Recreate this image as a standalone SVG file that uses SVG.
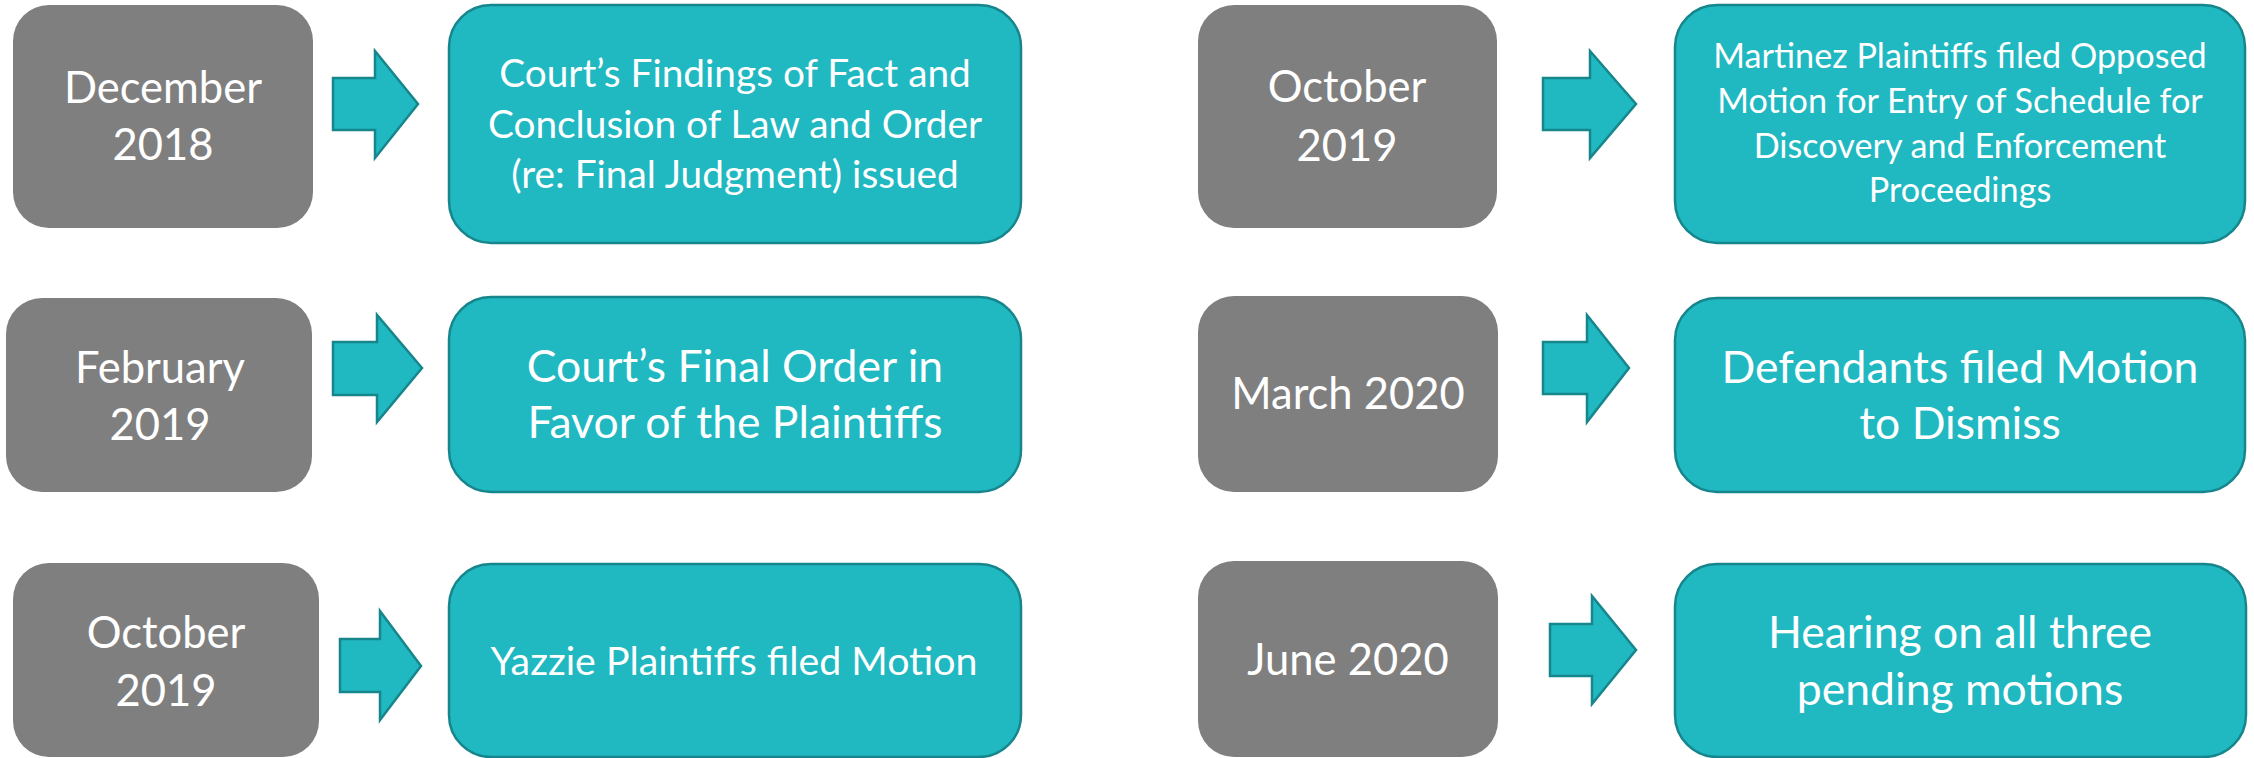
<svg xmlns="http://www.w3.org/2000/svg" width="2254" height="758" viewBox="0 0 2254 758">
<style>
.date{fill:#7f7f7f}
.evt{fill:#20b8c1;stroke:#16868c;stroke-width:2.5}
.arr{fill:#20b8c1;stroke:#16868c;stroke-width:2.5;stroke-linejoin:miter}
text{font-family:Lato,"Liberation Sans",sans-serif;fill:#ffffff;text-anchor:middle}
.d{font-size:43.5px}
.b{font-size:44.5px}
.m{font-size:38.8px}
.y{font-size:39.3px}
.s{font-size:34.2px}
</style>
<rect width="2254" height="758" fill="#ffffff"/>

<g id="date-dec-2018">
<rect class="date" x="13" y="5" width="300" height="223" rx="36"/>
<text class="d" x="163" y="103">December</text>
<text class="d" x="163" y="160">2018</text>
</g>
<g id="evt-findings">
<rect class="evt" x="449" y="5" width="572" height="238" rx="42"/>
<text class="m" x="735" y="87">Court’s Findings of Fact and</text>
<text class="m" x="735" y="138">Conclusion of Law and Order</text>
<text class="m" x="735" y="188">(re: Final Judgment) issued</text>
</g>

<g id="date-feb-2019">
<rect class="date" x="6" y="298" width="306" height="194" rx="36"/>
<text class="d" x="160" y="383">February</text>
<text class="d" x="160" y="440">2019</text>
</g>
<g id="evt-final-order">
<rect class="evt" x="449" y="297" width="572" height="195" rx="42"/>
<text class="b" x="735" y="382">Court’s Final Order in</text>
<text class="b" x="735" y="438">Favor of the Plaintiffs</text>
</g>

<g id="date-oct-2019-a">
<rect class="date" x="13" y="563" width="306" height="194" rx="36"/>
<text class="d" x="166" y="648">October</text>
<text class="d" x="166" y="706">2019</text>
</g>
<g id="evt-yazzie">
<rect class="evt" x="449" y="564" width="572" height="193" rx="42"/>
<text class="y" x="734" y="675">Yazzie Plaintiffs filed Motion</text>
</g>

<g id="date-oct-2019-b">
<rect class="date" x="1198" y="5" width="299" height="223" rx="36"/>
<text class="d" x="1347" y="102">October</text>
<text class="d" x="1347" y="161">2019</text>
</g>
<g id="evt-martinez">
<rect class="evt" x="1675" y="5" width="570" height="238" rx="42"/>
<text class="s" x="1960" y="68">Martinez Plaintiffs filed Opposed</text>
<text class="s" x="1960" y="113">Motion for Entry of Schedule for</text>
<text class="s" x="1960" y="158">Discovery and Enforcement</text>
<text class="s" x="1960" y="202">Proceedings</text>
</g>

<g id="date-mar-2020">
<rect class="date" x="1198" y="296" width="300" height="196" rx="36"/>
<text class="d" x="1348" y="409">March 2020</text>
</g>
<g id="evt-dismiss">
<rect class="evt" x="1675" y="298" width="570" height="194" rx="42"/>
<text class="b" x="1960" y="383">Defendants filed Motion</text>
<text class="b" x="1960" y="439">to Dismiss</text>
</g>

<g id="date-jun-2020">
<rect class="date" x="1198" y="561" width="300" height="196" rx="36"/>
<text class="d" x="1348" y="675">June 2020</text>
</g>
<g id="evt-hearing">
<rect class="evt" x="1675" y="564" width="571" height="193" rx="42"/>
<text class="b" x="1960" y="648">Hearing on all three</text>
<text class="b" x="1960" y="705">pending motions</text>
</g>

<g id="connectors">
<path class="arr" d="M333,78 H375 V51 L418,104 L375,158 V130 H333 Z"/>
<path class="arr" d="M333,342 H377 V315 L422,368 L377,422 V395 H333 Z"/>
<path class="arr" d="M340,639 H380 V611 L421,666 L380,720 V692 H340 Z"/>
<path class="arr" d="M1543,78 H1590 V51 L1636,104 L1590,158 V130 H1543 Z"/>
<path class="arr" d="M1543,342 H1587 V315 L1629,368 L1587,422 V394 H1543 Z"/>
<path class="arr" d="M1550,624 H1592 V596 L1636,650 L1592,704 V676 H1550 Z"/>
</g>
</svg>
